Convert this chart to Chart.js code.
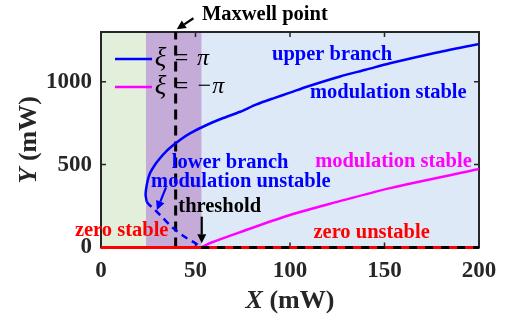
<!DOCTYPE html>
<html>
<head>
<meta charset="utf-8">
<script src="https://cdn.jsdelivr.net/npm/chart.js@4/dist/chart.umd.min.js"></script>
<style>
html,body{margin:0;padding:0;background:#fff;}
#wrap{width:508px;height:322px;}
</style>
</head>
<body>
<div id="wrap"><canvas id="c" width="508" height="322"></canvas></div>
<script>
// ---- data ----
const xTicks = [0, 50, 100, 150, 200];
const yTicks = [0, 500, 1000];
const upperX = [24.2, 23.6, 23.8, 24.6, 25.9, 28.3, 31.2, 34.5, 38.3, 42.5, 47.1, 55.9, 64.0, 73.6, 82.0, 91.2, 100, 108.9, 126.5, 140, 152.9, 176, 200];
const upperY = [276, 316, 347, 400, 448, 495, 538, 580, 618, 655, 689, 739, 778, 819, 862, 900, 934, 970, 1032, 1072, 1111, 1172, 1228];
const lowerX = [24.2, 25.2, 28.6, 31.8, 38.2, 44.5, 49.8, 53.0];
const lowerY = [276, 262, 226, 190, 117, 63, 27, 0];
const magX = [53.0, 57.8, 73.7, 100, 125, 153, 200];
const magY = [0, 27, 93, 196, 275, 358, 473];
const zeroX = [0, 200];
const zeroY = [0, 0];
const unstableX = [53.0, 200];
const unstableY = [0, 0];
const maxwellX = [39.5, 39.5];
const maxwellY = [0, 1300];
const regionFrom = [0, 23.8, 53.3];
const regionTo = [23.8, 53.3, 200];
const regionColors = ['#e2efda', '#c4abd8', '#dde9f6'];

const pts = (xs, ys) => xs.map((x, i) => ({x: x, y: ys[i]}));
const SERIF = '"Liberation Serif", "Times New Roman", serif';
const INK = '#262626';

const notes = [
  {t: 'Maxwell point', x: 53.4, y: 1372, c: '#000'},
  {t: 'upper branch', x: 90.5, y: 1131, c: '#0000ff'},
  {t: 'modulation stable', x: 110.6, y: 902, c: '#0000ff'},
  {t: 'lower branch', x: 37.4, y: 478, c: '#0000ff'},
  {t: 'modulation unstable', x: 26.5, y: 367, c: '#0000ff'},
  {t: 'modulation stable', x: 113.3, y: 487, c: '#ff00ff'},
  {t: 'threshold', x: 40.9, y: 216, c: '#000'},
  {t: 'zero stable', x: -13.8, y: 72, c: '#ff0000'},
  {t: 'zero unstable', x: 112.4, y: 55, c: '#ff0000'}
];
const arrows = [
  {x0: 48.9, y0: 1383, x1: 40.1, y1: 1316, c: '#000'},
  {x0: 34.4, y0: 363, x1: 29.6, y1: 226, c: '#0000ff'},
  {x0: 53.3, y0: 186, x1: 53.3, y1: 25, c: '#000'}
];
const legendRows = [
  {c: '#0000ff', y: 1137, parts: ['ξ', '=', 'π']},
  {c: '#ff00ff', y: 968, parts: ['ξ', '=', '−π']}
];

const decor = {
  id: 'decor',
  beforeDatasetsDraw(chart) {
    const {ctx, chartArea: a, scales: {x, y}} = chart;
    ctx.save();
    for (let i = 0; i < regionFrom.length; i++) {
      const l = x.getPixelForValue(regionFrom[i]);
      const r = x.getPixelForValue(regionTo[i]);
      ctx.fillStyle = regionColors[i];
      ctx.fillRect(l, a.top, r - l, a.bottom - a.top);
    }
    ctx.strokeStyle = INK;
    ctx.lineWidth = 2;
    ctx.strokeRect(a.left, a.top, a.right - a.left, a.bottom - a.top);
    ctx.lineWidth = 1.5;
    ctx.beginPath();
    xTicks.forEach(v => {
      const p = x.getPixelForValue(v);
      ctx.moveTo(p, a.bottom); ctx.lineTo(p, a.bottom - 5);
      ctx.moveTo(p, a.top); ctx.lineTo(p, a.top + 5);
    });
    yTicks.forEach(v => {
      const p = y.getPixelForValue(v);
      ctx.moveTo(a.left, p); ctx.lineTo(a.left + 5, p);
      ctx.moveTo(a.right, p); ctx.lineTo(a.right - 5, p);
    });
    ctx.stroke();
    ctx.restore();
  },
  afterDatasetsDraw(chart) {
    const {ctx, chartArea: a, scales: {x, y}} = chart;
    ctx.save();
    legendRows.forEach(r => {
      const py = y.getPixelForValue(r.y);
      ctx.strokeStyle = r.c; ctx.lineWidth = 2.5; ctx.setLineDash([]);
      ctx.beginPath();
      ctx.moveTo(x.getPixelForValue(7.4), py);
      ctx.lineTo(x.getPixelForValue(27), py);
      ctx.stroke();
      ctx.fillStyle = '#000';
      ctx.textBaseline = 'middle';
      ctx.font = 'italic 27px ' + SERIF;
      ctx.fillText(r.parts[0], x.getPixelForValue(28.4), py);
      ctx.font = '24px ' + SERIF;
      ctx.fillText(r.parts[1], x.getPixelForValue(39.0), py);
      ctx.font = 'italic 24px ' + SERIF;
      ctx.fillText(r.parts[2], x.getPixelForValue(r.parts[2].length > 1 ? 50.3 : 50.8), py);
    });
    ctx.textBaseline = 'alphabetic';
    ctx.font = 'bold 20.5px ' + SERIF;
    notes.forEach(n => {
      ctx.fillStyle = n.c;
      ctx.fillText(n.t, x.getPixelForValue(n.x), y.getPixelForValue(n.y));
    });
    arrows.forEach(ar => {
      const x0 = x.getPixelForValue(ar.x0), y0 = y.getPixelForValue(ar.y0);
      const x1 = x.getPixelForValue(ar.x1), y1 = y.getPixelForValue(ar.y1);
      const ang = Math.atan2(y1 - y0, x1 - x0);
      const hl = 9, hw = 4.5;
      const bx = x1 - hl * Math.cos(ang), by = y1 - hl * Math.sin(ang);
      ctx.strokeStyle = ar.c; ctx.fillStyle = ar.c; ctx.lineWidth = 2.2;
      ctx.beginPath(); ctx.moveTo(x0, y0); ctx.lineTo(bx, by); ctx.stroke();
      ctx.beginPath();
      ctx.moveTo(x1, y1);
      ctx.lineTo(bx + hw * Math.sin(ang), by - hw * Math.cos(ang));
      ctx.lineTo(bx - hw * Math.sin(ang), by + hw * Math.cos(ang));
      ctx.closePath(); ctx.fill();
    });
    ctx.fillStyle = INK;
    ctx.textBaseline = 'alphabetic';
    ctx.font = 'italic bold 26px ' + SERIF;
    const wX = ctx.measureText('X').width;
    ctx.font = 'bold 26px ' + SERIF;
    const wRest = ctx.measureText(' (mW)').width;
    const cx = (a.left + a.right) / 2 - (wX + wRest) / 2;
    ctx.font = 'italic bold 26px ' + SERIF;
    ctx.fillText('X', cx, 308);
    ctx.font = 'bold 26px ' + SERIF;
    ctx.fillText(' (mW)', cx + wX, 308);
    ctx.save();
    ctx.translate(36, (a.top + a.bottom) / 2);
    ctx.rotate(-Math.PI / 2);
    ctx.font = 'italic bold 26px ' + SERIF;
    const wY = ctx.measureText('Y').width;
    const sx = -(wY + wRest) / 2;
    ctx.fillText('Y', sx, 0);
    ctx.font = 'bold 26px ' + SERIF;
    ctx.fillText(' (mW)', sx + wY, 0);
    ctx.restore();
    ctx.restore();
  }
};

new Chart(document.getElementById('c'), {
  type: 'scatter',
  data: {
    datasets: [
      {label: 'threshold marker', data: pts(unstableX, unstableY), showLine: true, borderColor: '#000', borderWidth: 3, borderDash: [8, 8], pointRadius: 0, clip: false},
      {label: 'zero solution', data: pts(zeroX, zeroY), showLine: true, borderColor: '#ff0000', borderWidth: 3, pointRadius: 0, clip: false},
      {label: 'ξ = π lower', data: pts(lowerX, lowerY), showLine: true, borderColor: '#0000ff', borderWidth: 2.5, borderDash: [7, 5], pointRadius: 0, tension: 0.3},
      {label: 'ξ = π', data: pts(upperX, upperY), showLine: true, borderColor: '#0000ff', borderWidth: 2.5, pointRadius: 0, tension: 0.25},
      {label: 'ξ = −π', data: pts(magX, magY), showLine: true, borderColor: '#ff00ff', borderWidth: 2.5, pointRadius: 0, tension: 0.3},
      {label: 'Maxwell point', data: pts(maxwellX, maxwellY), showLine: true, borderColor: '#000', borderWidth: 3, borderDash: [10, 6], pointRadius: 0, clip: false}
    ]
  },
  options: {
    responsive: false,
    animation: false,
    layout: {padding: {left: 0, top: 32, right: 29, bottom: 0}},
    plugins: {legend: {display: false}, tooltip: {enabled: false}},
    scales: {
      x: {
        type: 'linear', min: 0, max: 200,
        afterBuildTicks: s => { s.ticks = xTicks.map(v => ({value: v})); },
        afterFit: s => { s.height = 74.5; },
        grid: {display: false, drawTicks: false},
        border: {display: false},
        ticks: {padding: 10, color: INK, font: {family: SERIF, size: 23, weight: 'bold'}, maxRotation: 0, callback: v => String(v)}
      },
      y: {
        type: 'linear', min: 0, max: 1300,
        afterBuildTicks: s => { s.ticks = yTicks.map(v => ({value: v})); },
        afterFit: s => { s.width = 101; },
        grid: {display: false, drawTicks: false},
        border: {display: false},
        ticks: {padding: 9, color: INK, font: {family: SERIF, size: 23, weight: 'bold'}, callback: v => String(v)}
      }
    }
  },
  plugins: [decor]
});
</script>
</body>
</html>
